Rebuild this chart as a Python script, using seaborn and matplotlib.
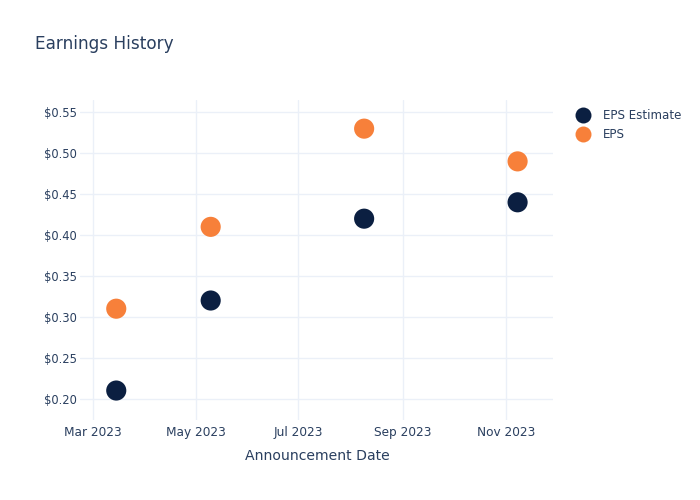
import matplotlib
matplotlib.use("Agg")
import matplotlib.pyplot as plt
import matplotlib.dates as mdates
import seaborn as sns
import pandas as pd
from matplotlib.lines import Line2D

dates = ["2023-03-15", "2023-05-10", "2023-08-09", "2023-11-08"]
eps_estimate = [0.21, 0.32, 0.42, 0.44]
eps_actual = [0.31, 0.41, 0.53, 0.49]
series_names = ["EPS Estimate", "EPS"]
colors = ["#0b1f41", "#f7803a"]
x_ticks = ["2023-03-01", "2023-05-01", "2023-07-01", "2023-09-01", "2023-11-01"]
y_ticks = [0.20, 0.25, 0.30, 0.35, 0.40, 0.45, 0.50, 0.55]

df = pd.concat([
    pd.DataFrame({"date": pd.to_datetime(dates), "value": eps_estimate, "series": series_names[0]}),
    pd.DataFrame({"date": pd.to_datetime(dates), "value": eps_actual, "series": series_names[1]}),
])

sns.set_style("white")
plt.rcParams["font.family"] = ["DejaVu Sans"]
txt = "#2a3f5f"

fig = plt.figure(figsize=(7, 5), dpi=100)
ax = fig.add_axes([80/700, 80/500, 473/700, 320/500])
sns.scatterplot(data=df, x="date", y="value", hue="series", palette=dict(zip(series_names, colors)),
                s=210, edgecolor="none", ax=ax, legend=False, zorder=3)

ax.set_xlim(pd.Timestamp("2023-02-21 12:00"), pd.Timestamp("2023-11-29"))
ax.set_ylim(0.174, 0.565)
ax.set_xticks(pd.to_datetime(x_ticks))
ax.xaxis.set_major_formatter(mdates.DateFormatter("%b %Y"))
ax.set_yticks(y_ticks)
ax.set_yticklabels([f"${v:.2f}" for v in y_ticks])
ax.grid(True, color="#ebf0f8", linewidth=1, zorder=0)
ax.set_axisbelow(True)
for s in ax.spines.values():
    s.set_visible(False)
ax.tick_params(axis="y", length=0, labelsize=8.3, labelcolor=txt, pad=2)
ax.tick_params(axis="x", length=0, labelsize=8.7, labelcolor=txt, pad=4)
ax.set_xlabel("")
ax.set_ylabel("")

fig.text(35/700, 1-44/500, "Earnings History", fontsize=12.2, color=txt, va="center", ha="left")
fig.text(317/700, 1-456/500, "Announcement Date", fontsize=10.1, color=txt, va="center", ha="center")

handles = [Line2D([], [], marker="o", linestyle="", markersize=11.5, markerfacecolor=c, markeredgecolor="none")
           for c in colors]
fig.legend(handles, series_names, loc="upper left", bbox_to_anchor=(568/700, 1-103/500), frameon=False,
           fontsize=8.6, labelcolor=txt, handletextpad=0.9, labelspacing=0.5, borderpad=0, handlelength=1.5)

fig.savefig("out.png", dpi=100)
